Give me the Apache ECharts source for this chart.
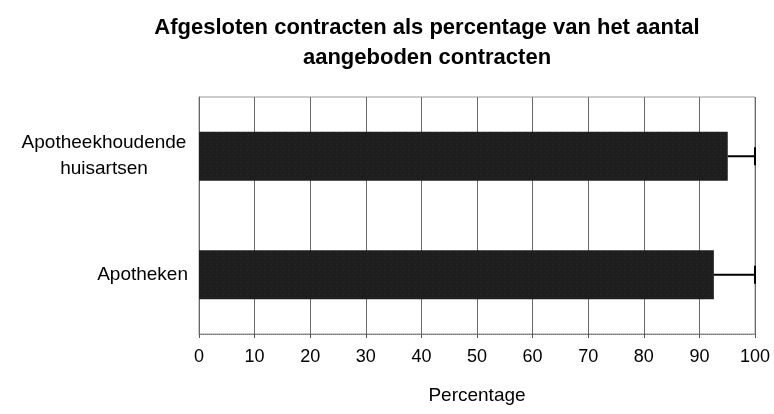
<!DOCTYPE html>
<html>
<head>
<meta charset="utf-8">
<script src="https://cdn.jsdelivr.net/npm/echarts@6/dist/echarts.min.js"></script>
<style>
  html, body { margin: 0; padding: 0; background: #fff; }
  #chart { width: 774px; height: 414px; }
</style>
</head>
<body>
<div id="chart"></div>
<script>
// bottom to top
const categories = ['Apotheken', 'Apotheekhoudende\nhuisartsen'];
const percentages = [92.6, 95.1];
const upperLimits = [100, 100];
const xTicks = [0, 10, 20, 30, 40, 50, 60, 70, 80, 90, 100];

const chart = echarts.init(document.getElementById('chart'));

const errorData = categories.map((c, i) => [i, percentages[i], upperLimits[i]]);

const option = {
    animation: false,
    title: {
        text: 'Afgesloten contracten als percentage van het aantal\naangeboden contracten',
        left: 422,
        top: 8,
        textAlign: 'center',
        textStyle: {
            fontFamily: 'Liberation Sans',
            fontSize: 22,
            fontWeight: 'bold',
            color: '#000',
            lineHeight: 30
        }
    },
    grid: {
        left: 199,
        right: 19,
        top: 97,
        bottom: 80,
        show: true,
        borderColor: '#999',
        borderWidth: 1
    },
    xAxis: {
        type: 'value',
        min: xTicks[0],
        max: xTicks[xTicks.length - 1],
        interval: 10,
        name: 'Percentage',
        nameLocation: 'middle',
        nameGap: 52,
        nameTextStyle: { fontFamily: 'Liberation Sans', fontSize: 19, color: '#000' },
        axisLine: { show: true, lineStyle: { color: '#777', type: 'dotted' } },
        axisTick: { show: true, length: 4, lineStyle: { color: '#555' } },
        axisLabel: { margin: 14, fontFamily: 'Liberation Sans', fontSize: 18, color: '#000' },
        splitLine: { show: true, lineStyle: { color: '#6a6a6a', width: 1 } }
    },
    yAxis: {
        type: 'category',
        data: categories,
        axisLine: { show: true, lineStyle: { color: '#666', type: 'dotted' } },
        axisTick: { show: false },
        axisLabel: {
            margin: 11,
            fontFamily: 'Liberation Sans',
            fontSize: 19,
            color: '#000',
            lineHeight: 26,
            align: 'right',
            // multi-line labels are centred as a block
            formatter: function (v) {
                if (v.indexOf('\n') < 0) return v;
                return v.split('\n').map(s => '{c|' + s + '}').join('\n');
            },
            rich: {
                c: {
                    width: 168,
                    align: 'center',
                    fontFamily: 'Liberation Sans',
                    fontSize: 19,
                    lineHeight: 26,
                    color: '#000'
                }
            }
        },
        splitLine: { show: false }
    },
    series: [
        {
            type: 'bar',
            data: percentages,
            barWidth: 49,
            itemStyle: {
                color: '#1e1e1e',
                decal: {
                    symbol: 'rect',
                    symbolSize: 0.35,
                    color: 'rgba(255,255,255,0.22)',
                    dashArrayX: [[1, 3], [2, 4]],
                    dashArrayY: [1, 2],
                    rotation: 0
                }
            },
            z: 3
        },
        {
            type: 'custom',
            data: errorData,
            z: 4,
            renderItem: function (params, api) {
                const cat = api.value(0);
                const from = api.coord([api.value(1), cat]);
                const to = api.coord([api.value(2), cat]);
                const cap = 9;
                const style = { stroke: '#000', lineWidth: 2 };
                return {
                    type: 'group',
                    children: [
                        { type: 'line', shape: { x1: from[0], y1: from[1], x2: to[0], y2: to[1] }, style: style },
                        { type: 'line', shape: { x1: to[0], y1: to[1] - cap, x2: to[0], y2: to[1] + cap }, style: style }
                    ]
                };
            }
        }
    ]
};

chart.setOption(option);
</script>
</body>
</html>
